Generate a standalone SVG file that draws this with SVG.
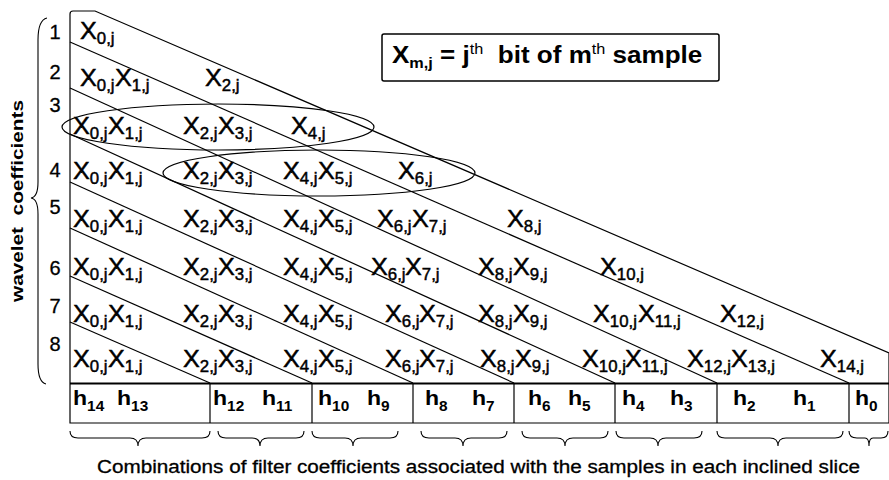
<svg xmlns="http://www.w3.org/2000/svg" width="889" height="480" viewBox="0 0 889 480">
<style>
text{font-family:"Liberation Sans",Arial,sans-serif;fill:#000}
.x{font-size:24px;stroke:#000;stroke-width:0.45}
.s{font-size:16px}
.h{font-size:21px;font-weight:bold}
.hs{font-size:14px;font-weight:bold}
.n{font-size:20px;stroke:#000;stroke-width:0.3}
.ln{stroke:#000;stroke-width:1.2;fill:none}
.br{stroke:#000;stroke-width:1.1;fill:none}
</style>
<rect width="889" height="480" fill="#fff"/>
<g id="frame" class="ln">
<path d="M70 423 L70 14 Q70 11 73 11 L95 11 L889 353 L889 423 Z"/>
<line x1="70" y1="383.5" x2="889" y2="383.5" stroke-width="2.2"/>
<line x1="210" y1="383" x2="210" y2="423"/>
<line x1="312" y1="383" x2="312" y2="423"/>
<line x1="413" y1="383" x2="413" y2="423"/>
<line x1="514" y1="383" x2="514" y2="423"/>
<line x1="615" y1="383" x2="615" y2="423"/>
<line x1="717" y1="383" x2="717" y2="423"/>
<line x1="849" y1="383" x2="849" y2="423"/>
</g>
<g id="connectors" class="ln">
<line x1="70" y1="42" x2="849" y2="383"/>
<line x1="70" y1="88" x2="717" y2="383"/>
<line x1="70" y1="134" x2="615" y2="383"/>
<line x1="70" y1="182" x2="514" y2="383"/>
<line x1="70" y1="228" x2="413" y2="383"/>
<line x1="70" y1="276" x2="312" y2="383"/>
<line x1="70" y1="322" x2="210" y2="383"/>
</g>
<g id="ellipses" class="ln">
<ellipse cx="218" cy="127" rx="156" ry="23"/>
<ellipse cx="319" cy="173" rx="156" ry="23"/>
</g>
<g id="legend">
<rect x="382" y="34" width="337" height="47" rx="2" fill="#fff" stroke="#000" stroke-width="1.5"/>
<text transform="translate(392 63) scale(1.085 1)" font-size="24" font-weight="bold" xml:space="preserve">X<tspan font-size="15" dy="5">m,j</tspan><tspan dy="-5"> = j</tspan><tspan font-size="15" font-weight="normal" dy="-9">th</tspan><tspan dy="9">  bit of m</tspan><tspan font-size="15" font-weight="normal" dy="-9">th</tspan><tspan dy="9"> sample</tspan></text>
</g>
<g id="rownums">
<text class="n" x="55" y="39" text-anchor="middle">1</text>
<text class="n" x="55" y="79" text-anchor="middle">2</text>
<text class="n" x="55" y="112" text-anchor="middle">3</text>
<text class="n" x="55" y="177" text-anchor="middle">4</text>
<text class="n" x="55" y="214" text-anchor="middle">5</text>
<text class="n" x="55" y="275" text-anchor="middle">6</text>
<text class="n" x="55" y="313" text-anchor="middle">7</text>
<text class="n" x="55" y="351" text-anchor="middle">8</text>
</g>
<g id="brace-left" class="br">
<path d="M47 18 Q38 20 38 40 L38 182 Q38 197 31 198 Q38 199 38 214 L38 364 Q38 382 46 384"/>
</g>
<text transform="translate(23 201) rotate(-90)" font-size="16" font-weight="bold" text-anchor="middle" textLength="202" lengthAdjust="spacingAndGlyphs" xml:space="preserve">wavelet  coefficients</text>
<g id="row1">
<text class="x" transform="translate(80 39) scale(1.05 1)">X<tspan class="s" dy="5">0,j</tspan></text>
</g>
<g id="row2">
<text class="x" transform="translate(80 86) scale(1.05 1)">X<tspan class="s" dy="5">0,j</tspan></text>
<text class="x" transform="translate(115 86) scale(1.05 1)">X<tspan class="s" dy="5">1,j</tspan></text>
<text class="x" transform="translate(205 86) scale(1.05 1)">X<tspan class="s" dy="5">2,j</tspan></text>
</g>
<g id="row3">
<text class="x" transform="translate(73 134) scale(1.05 1)">X<tspan class="s" dy="5">0,j</tspan></text>
<text class="x" transform="translate(108 134) scale(1.05 1)">X<tspan class="s" dy="5">1,j</tspan></text>
<text class="x" transform="translate(183 134) scale(1.05 1)">X<tspan class="s" dy="5">2,j</tspan></text>
<text class="x" transform="translate(218 134) scale(1.05 1)">X<tspan class="s" dy="5">3,j</tspan></text>
<text class="x" transform="translate(291 134) scale(1.05 1)">X<tspan class="s" dy="5">4,j</tspan></text>
</g>
<g id="row4">
<text class="x" transform="translate(73 179) scale(1.05 1)">X<tspan class="s" dy="5">0,j</tspan></text>
<text class="x" transform="translate(108 179) scale(1.05 1)">X<tspan class="s" dy="5">1,j</tspan></text>
<text class="x" transform="translate(183 179) scale(1.05 1)">X<tspan class="s" dy="5">2,j</tspan></text>
<text class="x" transform="translate(218 179) scale(1.05 1)">X<tspan class="s" dy="5">3,j</tspan></text>
<text class="x" transform="translate(283 179) scale(1.05 1)">X<tspan class="s" dy="5">4,j</tspan></text>
<text class="x" transform="translate(318 179) scale(1.05 1)">X<tspan class="s" dy="5">5,j</tspan></text>
<text class="x" transform="translate(398 179) scale(1.05 1)">X<tspan class="s" dy="5">6,j</tspan></text>
</g>
<g id="row5">
<text class="x" transform="translate(73 227) scale(1.05 1)">X<tspan class="s" dy="5">0,j</tspan></text>
<text class="x" transform="translate(108 227) scale(1.05 1)">X<tspan class="s" dy="5">1,j</tspan></text>
<text class="x" transform="translate(183 227) scale(1.05 1)">X<tspan class="s" dy="5">2,j</tspan></text>
<text class="x" transform="translate(218 227) scale(1.05 1)">X<tspan class="s" dy="5">3,j</tspan></text>
<text class="x" transform="translate(283 227) scale(1.05 1)">X<tspan class="s" dy="5">4,j</tspan></text>
<text class="x" transform="translate(318 227) scale(1.05 1)">X<tspan class="s" dy="5">5,j</tspan></text>
<text class="x" transform="translate(377 227) scale(1.05 1)">X<tspan class="s" dy="5">6,j</tspan></text>
<text class="x" transform="translate(412 227) scale(1.05 1)">X<tspan class="s" dy="5">7,j</tspan></text>
<text class="x" transform="translate(507 227) scale(1.05 1)">X<tspan class="s" dy="5">8,j</tspan></text>
</g>
<g id="row6">
<text class="x" transform="translate(73 275) scale(1.05 1)">X<tspan class="s" dy="5">0,j</tspan></text>
<text class="x" transform="translate(108 275) scale(1.05 1)">X<tspan class="s" dy="5">1,j</tspan></text>
<text class="x" transform="translate(183 275) scale(1.05 1)">X<tspan class="s" dy="5">2,j</tspan></text>
<text class="x" transform="translate(218 275) scale(1.05 1)">X<tspan class="s" dy="5">3,j</tspan></text>
<text class="x" transform="translate(283 275) scale(1.05 1)">X<tspan class="s" dy="5">4,j</tspan></text>
<text class="x" transform="translate(318 275) scale(1.05 1)">X<tspan class="s" dy="5">5,j</tspan></text>
<text class="x" transform="translate(371 275) scale(1.05 1)">X<tspan class="s" dy="5">6,j</tspan></text>
<text class="x" transform="translate(405 275) scale(1.05 1)">X<tspan class="s" dy="5">7,j</tspan></text>
<text class="x" transform="translate(478 275) scale(1.05 1)">X<tspan class="s" dy="5">8,j</tspan></text>
<text class="x" transform="translate(513 275) scale(1.05 1)">X<tspan class="s" dy="5">9,j</tspan></text>
<text class="x" transform="translate(600 275) scale(1.05 1)">X<tspan class="s" dy="5">10,j</tspan></text>
</g>
<g id="row7">
<text class="x" transform="translate(73 322) scale(1.05 1)">X<tspan class="s" dy="5">0,j</tspan></text>
<text class="x" transform="translate(108 322) scale(1.05 1)">X<tspan class="s" dy="5">1,j</tspan></text>
<text class="x" transform="translate(183 322) scale(1.05 1)">X<tspan class="s" dy="5">2,j</tspan></text>
<text class="x" transform="translate(218 322) scale(1.05 1)">X<tspan class="s" dy="5">3,j</tspan></text>
<text class="x" transform="translate(283 322) scale(1.05 1)">X<tspan class="s" dy="5">4,j</tspan></text>
<text class="x" transform="translate(318 322) scale(1.05 1)">X<tspan class="s" dy="5">5,j</tspan></text>
<text class="x" transform="translate(385 322) scale(1.05 1)">X<tspan class="s" dy="5">6,j</tspan></text>
<text class="x" transform="translate(419 322) scale(1.05 1)">X<tspan class="s" dy="5">7,j</tspan></text>
<text class="x" transform="translate(478 322) scale(1.05 1)">X<tspan class="s" dy="5">8,j</tspan></text>
<text class="x" transform="translate(513 322) scale(1.05 1)">X<tspan class="s" dy="5">9,j</tspan></text>
<text class="x" transform="translate(593 322) scale(1.05 1)">X<tspan class="s" dy="5">10,j</tspan></text>
<text class="x" transform="translate(638 322) scale(1.05 1)">X<tspan class="s" dy="5">11,j</tspan></text>
<text class="x" transform="translate(720 322) scale(1.05 1)">X<tspan class="s" dy="5">12,j</tspan></text>
</g>
<g id="row8">
<text class="x" transform="translate(73 367) scale(1.05 1)">X<tspan class="s" dy="5">0,j</tspan></text>
<text class="x" transform="translate(108 367) scale(1.05 1)">X<tspan class="s" dy="5">1,j</tspan></text>
<text class="x" transform="translate(183 367) scale(1.05 1)">X<tspan class="s" dy="5">2,j</tspan></text>
<text class="x" transform="translate(218 367) scale(1.05 1)">X<tspan class="s" dy="5">3,j</tspan></text>
<text class="x" transform="translate(283 367) scale(1.05 1)">X<tspan class="s" dy="5">4,j</tspan></text>
<text class="x" transform="translate(318 367) scale(1.05 1)">X<tspan class="s" dy="5">5,j</tspan></text>
<text class="x" transform="translate(385 367) scale(1.05 1)">X<tspan class="s" dy="5">6,j</tspan></text>
<text class="x" transform="translate(419 367) scale(1.05 1)">X<tspan class="s" dy="5">7,j</tspan></text>
<text class="x" transform="translate(480 367) scale(1.05 1)">X<tspan class="s" dy="5">8,j</tspan></text>
<text class="x" transform="translate(515 367) scale(1.05 1)">X<tspan class="s" dy="5">9,j</tspan></text>
<text class="x" transform="translate(582 367) scale(1.05 1)">X<tspan class="s" dy="5">10,j</tspan></text>
<text class="x" transform="translate(625 367) scale(1.05 1)">X<tspan class="s" dy="5">11,j</tspan></text>
<text class="x" transform="translate(687 367) scale(1.05 1)">X<tspan class="s" dy="5">12,j</tspan></text>
<text class="x" transform="translate(731 367) scale(1.05 1)">X<tspan class="s" dy="5">13,j</tspan></text>
<text class="x" transform="translate(820 367) scale(1.05 1)">X<tspan class="s" dy="5">14,j</tspan></text>
</g>
<g id="hrow">
<text class="h" transform="translate(73 405) scale(1.1 1)">h<tspan class="hs" dy="6">14</tspan></text>
<text class="h" transform="translate(117 405) scale(1.1 1)">h<tspan class="hs" dy="6">13</tspan></text>
<text class="h" transform="translate(213 405) scale(1.1 1)">h<tspan class="hs" dy="6">12</tspan></text>
<text class="h" transform="translate(262 405) scale(1.1 1)">h<tspan class="hs" dy="6">11</tspan></text>
<text class="h" transform="translate(318 405) scale(1.1 1)">h<tspan class="hs" dy="6">10</tspan></text>
<text class="h" transform="translate(367 405) scale(1.1 1)">h<tspan class="hs" dy="6">9</tspan></text>
<text class="h" transform="translate(425 405) scale(1.1 1)">h<tspan class="hs" dy="6">8</tspan></text>
<text class="h" transform="translate(472 405) scale(1.1 1)">h<tspan class="hs" dy="6">7</tspan></text>
<text class="h" transform="translate(528 405) scale(1.1 1)">h<tspan class="hs" dy="6">6</tspan></text>
<text class="h" transform="translate(568 405) scale(1.1 1)">h<tspan class="hs" dy="6">5</tspan></text>
<text class="h" transform="translate(622 405) scale(1.1 1)">h<tspan class="hs" dy="6">4</tspan></text>
<text class="h" transform="translate(670 405) scale(1.1 1)">h<tspan class="hs" dy="6">3</tspan></text>
<text class="h" transform="translate(733 405) scale(1.1 1)">h<tspan class="hs" dy="6">2</tspan></text>
<text class="h" transform="translate(793 405) scale(1.1 1)">h<tspan class="hs" dy="6">1</tspan></text>
<text class="h" transform="translate(855 405) scale(1.1 1)">h<tspan class="hs" dy="6">0</tspan></text>
</g>
<g id="braces-bottom" class="br">
<path d="M70 431 Q70 438 78 438 L130 438 Q138 438 138 446 Q138 438 146 438 L202 438 Q210 438 210 431"/>
<path d="M218 431 Q218 438 226 438 L252 438 Q260 438 260 446 Q260 438 268 438 L296 438 Q304 438 304 431"/>
<path d="M312 431 Q312 438 320 438 L345 438 Q353 438 353 446 Q353 438 361 438 L390 438 Q398 438 398 431"/>
<path d="M421 431 Q421 438 429 438 L455 438 Q463 438 463 446 Q463 438 471 438 L499 438 Q507 438 507 431"/>
<path d="M522 431 Q522 438 530 438 L557 438 Q565 438 565 446 Q565 438 573 438 L600 438 Q608 438 608 431"/>
<path d="M616 431 Q616 438 624 438 L650 438 Q658 438 658 446 Q658 438 666 438 L694 438 Q702 438 702 431"/>
<path d="M717 431 Q717 438 725 438 L770 438 Q778 438 778 446 Q778 438 786 438 L835 438 Q843 438 843 431"/>
<path d="M849 431 Q849 438 857 438 L865 438 Q869 438 869 446 Q869 438 873 438 L881 438 Q888 438 888 431"/>
</g>
<text x="478.5" y="473" font-size="18" stroke="#000" stroke-width="0.3" text-anchor="middle" textLength="763" lengthAdjust="spacingAndGlyphs">Combinations of filter coefficients associated with the samples in each inclined slice</text>
</svg>
